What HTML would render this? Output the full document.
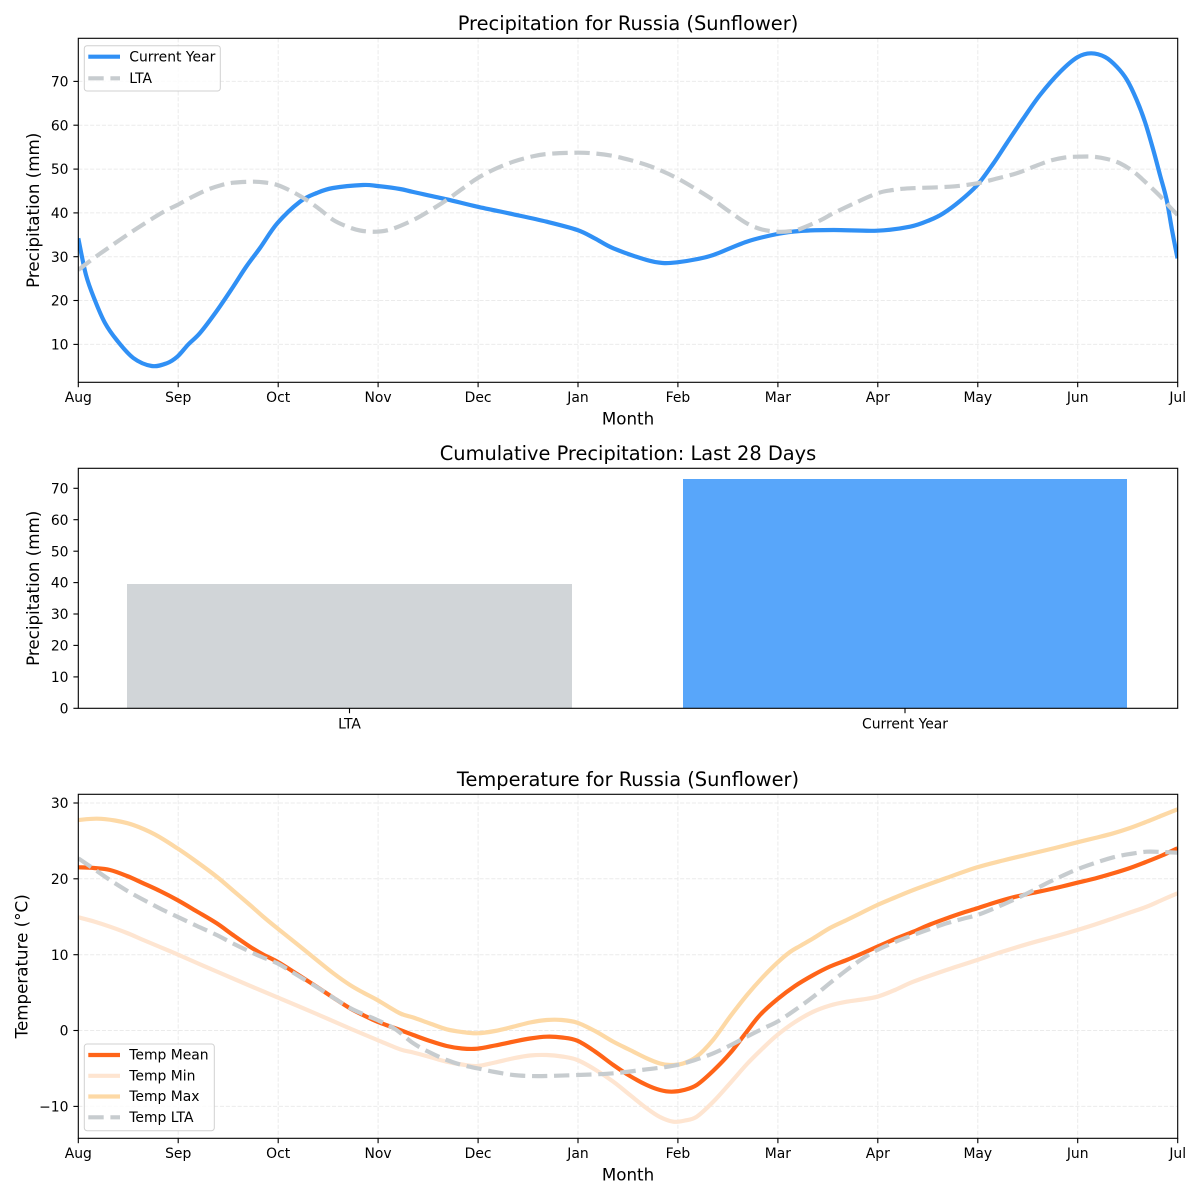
<!DOCTYPE html>
<html><head><meta charset="utf-8"><style>
html,body{margin:0;padding:0;background:#fff;}
svg{display:block;}
text{font-family:"DejaVu Sans","Liberation Sans",sans-serif;fill:#000;}
.tk{font-size:13.9px;}
.lab{font-size:16.7px;}
.ttl{font-size:19.4px;}
.grid line{stroke:#ebebeb;stroke-width:1;stroke-dasharray:4.1 1.8;}
.tick line{stroke:#000;stroke-width:1.1;}
</style></head><body>
<svg width="1200" height="1200" viewBox="0 0 1200 1200" xmlns="http://www.w3.org/2000/svg">
<defs>
<clipPath id="c1"><rect x="78.3" y="38.3" width="1099.4" height="344"/></clipPath>
<clipPath id="c3"><rect x="78.3" y="794.3" width="1099.4" height="344"/></clipPath>
</defs>
<rect width="1200" height="1200" fill="#fff"/>

<!-- ========== CHART 1 ========== -->
<text class="ttl" x="628" y="30" text-anchor="middle">Precipitation for Russia (Sunflower)</text>
<g class="grid">
<line x1="178.2" y1="38.3" x2="178.2" y2="382.3"/><line x1="278.2" y1="38.3" x2="278.2" y2="382.3"/>
<line x1="378.1" y1="38.3" x2="378.1" y2="382.3"/><line x1="478.1" y1="38.3" x2="478.1" y2="382.3"/>
<line x1="578" y1="38.3" x2="578" y2="382.3"/><line x1="677.9" y1="38.3" x2="677.9" y2="382.3"/>
<line x1="777.9" y1="38.3" x2="777.9" y2="382.3"/><line x1="877.8" y1="38.3" x2="877.8" y2="382.3"/>
<line x1="977.8" y1="38.3" x2="977.8" y2="382.3"/><line x1="1077.7" y1="38.3" x2="1077.7" y2="382.3"/>
<line x1="78.3" y1="344.4" x2="1177.7" y2="344.4"/><line x1="78.3" y1="300.5" x2="1177.7" y2="300.5"/>
<line x1="78.3" y1="256.7" x2="1177.7" y2="256.7"/><line x1="78.3" y1="212.9" x2="1177.7" y2="212.9"/>
<line x1="78.3" y1="169.1" x2="1177.7" y2="169.1"/><line x1="78.3" y1="125.2" x2="1177.7" y2="125.2"/>
<line x1="78.3" y1="81.4" x2="1177.7" y2="81.4"/>
</g>
<g clip-path="url(#c1)" fill="none" stroke-linejoin="round">
<polyline class="sm" stroke="#3090f5" stroke-width="4.2" points="78.3,238.3 86,275 95,300.5 105,323 116.7,340 133.3,358 151.7,366 166.7,363.3 177.3,356.7 188.3,344.4 200,333 216.7,311 233,287 246,267 260,248 277.3,223.3 300,201.7 316.7,193 333,188 363,185 377.3,186 400,189 413.3,192 446.7,199.3 477.3,206.7 513.3,214.3 546.7,221.7 577.3,230 595,238.5 613.3,248.3 646.7,260 663,263 677.3,262.3 695,259.5 713.3,255 746.7,241.7 777.3,234 800,231 833.3,230 877.3,230.7 910,226.7 930,220 943.3,213.3 960,201 977.3,185 993,164 1006.7,143.3 1023,119 1040,95 1060,72 1077.3,57.3 1091,53.3 1105,57 1116.7,66.7 1127,80 1136.7,100 1145,122 1153.3,150 1160,175 1166.7,200 1172,230 1177.5,258.3"/>
<polyline class="sm" stroke="#c7cccf" stroke-width="4.2" stroke-dasharray="15.4 6.7" points="78.3,270 94,258 110,246.7 130,233 150,220 165,211 177.3,205 192,197 206.7,190 220,185.5 233.3,182.7 253.3,181.7 265,182.5 277.3,185 292,191.5 306.7,200 320,209.5 333.3,220 347,226.5 360,230.5 376.7,231.7 392,229 413.3,220 430,210.5 446.7,200 462,189 477.3,178.3 495,169 513.3,161.7 530,157 546.7,154 577.3,152.7 595,153.5 613.3,156 630,160 646.7,165 662,171 677.3,178.3 695,188.5 713.3,200 730,212 746.7,223.3 762,229.5 777.3,231.7 790,231.2 800,229 820,220.5 833.3,213.3 855,203 877.3,193.3 893,190 910,188.3 950,186.7 977.3,183.3 997,178.5 1016.7,173.3 1033,167 1050,160.7 1065,157.5 1077.3,156.7 1093.3,156.7 1107,159 1120,163.3 1134,172 1146.7,183.3 1160,196 1168,205 1177.5,215"/>
</g>
<rect x="78.3" y="38.3" width="1099.4" height="344" fill="none" stroke="#000" stroke-width="1.1"/>
<g class="tick">
<line x1="78.3" y1="382.3" x2="78.3" y2="387.2"/><line x1="178.2" y1="382.3" x2="178.2" y2="387.2"/>
<line x1="278.2" y1="382.3" x2="278.2" y2="387.2"/><line x1="378.1" y1="382.3" x2="378.1" y2="387.2"/>
<line x1="478.1" y1="382.3" x2="478.1" y2="387.2"/><line x1="578" y1="382.3" x2="578" y2="387.2"/>
<line x1="677.9" y1="382.3" x2="677.9" y2="387.2"/><line x1="777.9" y1="382.3" x2="777.9" y2="387.2"/>
<line x1="877.8" y1="382.3" x2="877.8" y2="387.2"/><line x1="977.8" y1="382.3" x2="977.8" y2="387.2"/>
<line x1="1077.7" y1="382.3" x2="1077.7" y2="387.2"/><line x1="1177.7" y1="382.3" x2="1177.7" y2="387.2"/>
<line x1="73.4" y1="344.4" x2="78.3" y2="344.4"/><line x1="73.4" y1="300.5" x2="78.3" y2="300.5"/>
<line x1="73.4" y1="256.7" x2="78.3" y2="256.7"/><line x1="73.4" y1="212.9" x2="78.3" y2="212.9"/>
<line x1="73.4" y1="169.1" x2="78.3" y2="169.1"/><line x1="73.4" y1="125.2" x2="78.3" y2="125.2"/>
<line x1="73.4" y1="81.4" x2="78.3" y2="81.4"/>
</g>
<g class="tk" text-anchor="end">
<text x="68.5" y="349.5">10</text><text x="68.5" y="305.6">20</text><text x="68.5" y="261.8">30</text>
<text x="68.5" y="218">40</text><text x="68.5" y="174.2">50</text><text x="68.5" y="130.3">60</text>
<text x="68.5" y="86.5">70</text>
</g>
<g class="tk" text-anchor="middle">
<text x="78.3" y="402">Aug</text><text x="178.2" y="402">Sep</text><text x="278.2" y="402">Oct</text>
<text x="378.1" y="402">Nov</text><text x="478.1" y="402">Dec</text><text x="578" y="402">Jan</text>
<text x="677.9" y="402">Feb</text><text x="777.9" y="402">Mar</text><text x="877.8" y="402">Apr</text>
<text x="977.8" y="402">May</text><text x="1077.7" y="402">Jun</text><text x="1177.7" y="402">Jul</text>
</g>
<text class="lab" x="628" y="424.7" text-anchor="middle">Month</text>
<text class="lab" transform="translate(38.8,210.3) rotate(-90)" text-anchor="middle">Precipitation (mm)</text>
<!-- legend 1 -->
<rect x="84.3" y="45.7" width="136" height="45.3" rx="2.8" fill="#fff" fill-opacity="0.8" stroke="#d0d0d0" stroke-width="1"/>
<line x1="88.3" y1="56.7" x2="120" y2="56.7" stroke="#3090f5" stroke-width="4.2"/>
<line x1="88.3" y1="78.3" x2="120" y2="78.3" stroke="#c7cccf" stroke-width="4.2" stroke-dasharray="15.4 6.7"/>
<text class="tk" x="129.3" y="61.3">Current Year</text>
<text class="tk" x="129.3" y="82.9">LTA</text>

<!-- ========== CHART 2 ========== -->
<text class="ttl" x="628" y="460" text-anchor="middle">Cumulative Precipitation: Last 28 Days</text>
<rect x="127" y="584" width="445" height="124.3" fill="#d1d5d8"/>
<rect x="683" y="479" width="444" height="229.3" fill="#58a6fa"/>
<rect x="78.3" y="468.3" width="1099.4" height="240" fill="none" stroke="#000" stroke-width="1.1"/>
<g class="tick">
<line x1="349.5" y1="708.3" x2="349.5" y2="713.2"/><line x1="905" y1="708.3" x2="905" y2="713.2"/>
<line x1="73.4" y1="708.3" x2="78.3" y2="708.3"/><line x1="73.4" y1="676.9" x2="78.3" y2="676.9"/>
<line x1="73.4" y1="645.4" x2="78.3" y2="645.4"/><line x1="73.4" y1="614" x2="78.3" y2="614"/>
<line x1="73.4" y1="582.6" x2="78.3" y2="582.6"/><line x1="73.4" y1="551.2" x2="78.3" y2="551.2"/>
<line x1="73.4" y1="519.7" x2="78.3" y2="519.7"/><line x1="73.4" y1="488.3" x2="78.3" y2="488.3"/>
</g>
<g class="tk" text-anchor="end">
<text x="68.5" y="713.4">0</text><text x="68.5" y="682">10</text><text x="68.5" y="650.5">20</text>
<text x="68.5" y="619.1">30</text><text x="68.5" y="587.7">40</text><text x="68.5" y="556.3">50</text>
<text x="68.5" y="524.8">60</text><text x="68.5" y="493.4">70</text>
</g>
<g class="tk" text-anchor="middle">
<text x="349.5" y="728.5">LTA</text><text x="905" y="728.5">Current Year</text>
</g>
<text class="lab" transform="translate(38.8,588.3) rotate(-90)" text-anchor="middle">Precipitation (mm)</text>

<!-- ========== CHART 3 ========== -->
<text class="ttl" x="628" y="786" text-anchor="middle">Temperature for Russia (Sunflower)</text>
<g class="grid">
<line x1="178.2" y1="794.3" x2="178.2" y2="1138.3"/><line x1="278.2" y1="794.3" x2="278.2" y2="1138.3"/>
<line x1="378.1" y1="794.3" x2="378.1" y2="1138.3"/><line x1="478.1" y1="794.3" x2="478.1" y2="1138.3"/>
<line x1="578" y1="794.3" x2="578" y2="1138.3"/><line x1="677.9" y1="794.3" x2="677.9" y2="1138.3"/>
<line x1="777.9" y1="794.3" x2="777.9" y2="1138.3"/><line x1="877.8" y1="794.3" x2="877.8" y2="1138.3"/>
<line x1="977.8" y1="794.3" x2="977.8" y2="1138.3"/><line x1="1077.7" y1="794.3" x2="1077.7" y2="1138.3"/>
<line x1="78.3" y1="803" x2="1177.7" y2="803"/><line x1="78.3" y1="878.8" x2="1177.7" y2="878.8"/>
<line x1="78.3" y1="954.7" x2="1177.7" y2="954.7"/><line x1="78.3" y1="1030.5" x2="1177.7" y2="1030.5"/>
<line x1="78.3" y1="1106.4" x2="1177.7" y2="1106.4"/>
</g>
<g clip-path="url(#c3)" fill="none" stroke-linejoin="round" stroke-width="4.2">
<polyline class="sm" stroke="#ff6418" points="78.3,867.3 94,868 110,870 127,876 143.3,883.3 160,891 177.3,900 197,911.5 216.7,923.3 233,935 250,946.7 263,954.5 277.3,961.7 297,974 316.7,986.7 333,997.5 350,1008.3 364,1015.5 377.3,1021.7 400,1030 413.3,1035 430,1041 446.7,1046 462,1048.5 477.3,1048.7 495,1045.5 513.3,1041.7 530,1038.5 546.7,1036.7 562,1037.5 577.3,1040.7 595,1051.5 613.3,1065 630,1076 646.7,1085 660,1090 671.7,1091.7 684,1090 696.7,1085 713,1071 730,1053.3 745,1034 760,1015 777.3,999.3 795,986 813.3,975 830,966.5 846.7,960 862,953.5 877.3,946.7 895,939 913.3,931.7 930,924.5 946.7,918.3 962,913 977.3,908.3 995,902.5 1013.3,897.3 1030,893.5 1046.7,890 1062,886.5 1077.3,882.7 1095,878.5 1113.3,873.3 1130,868 1146.7,861.7 1162,855.5 1177.5,848.3"/>
<polyline class="sm" stroke="#fee5d1" points="78.3,917.3 94,921.5 110,926.7 127,933 143.3,940 160,947 177.3,954.3 197,963 216.7,971.5 250,985.8 277.3,997.3 316.7,1014 350,1028.5 377.3,1040 400,1049.3 413.3,1052.5 430,1057 446.7,1061.7 462,1064.5 477.3,1066 495,1062.5 513.3,1058.3 530,1055.5 546.7,1055 562,1056.5 577.3,1060 595,1069.5 613.3,1081.7 630,1095 646.7,1108.3 660,1117 673.3,1121.7 685,1120.5 696.7,1116.7 713,1102 730,1083.3 747,1064 762,1049 777.3,1035 795,1022 813.3,1011.7 830,1005.5 846.7,1001.7 862,999.5 877.3,996.7 895,990 913.3,981.7 945,970.5 977.3,960 1003,951.5 1030,943.3 1055,936.5 1077.3,930 1095,924.5 1113.3,918.3 1130,912.5 1146.7,906.7 1162,900 1177.5,893.3"/>
<polyline class="sm" stroke="#fdd9a6" points="78.3,820 96.7,818.7 115,820.5 133.3,825 155,834.5 177.3,848.3 197,862 216.7,876.7 233,890.5 250,905 263,916.5 277.3,928.3 297,944 316.7,960 333,973 350,985 364,993 377.3,1000 400,1013.3 413.3,1017.5 430,1023.5 446.7,1029.3 462,1032 477.3,1033.3 495,1031 513.3,1026.7 530,1022.5 546.7,1020 562,1020 577.3,1022.7 595,1031 613.3,1041.7 630,1050 646.7,1058.3 660,1063.5 670,1065 683,1063.5 696.7,1056.7 713,1040 730,1016.7 747,995 762,978 777.3,962.7 790,952 800,946 813.3,938.3 830,928 846.7,920 860,913.5 877.3,905 895,897.5 913.3,890 945,878.5 977.3,867.3 1003,860.5 1030,854 1055,848 1077.3,842.3 1095,838 1113.3,833.3 1130,828 1146.7,821.7 1162,815.5 1177.5,809.3"/>
<polyline class="sm" stroke="#c7cccf" stroke-dasharray="15.4 6.7" points="78.3,858.3 94,869 110,880 130,892.5 150,903.3 163,910 177.3,916.7 197,926 216.7,935 233,943.5 250,951.7 263,957.5 277.3,963.3 297,975 316.7,987 333,997.5 350,1008 364,1014.5 377.3,1020 395,1029 413.3,1043.3 430,1052.5 446.7,1060 462,1065 477.3,1068.3 495,1072 513.3,1075 530,1076 546.7,1076 577.3,1075 613.3,1073.3 646.7,1069.3 662,1067.5 677.3,1065 695,1060 713.3,1053.3 730,1045.5 746.7,1036.7 762,1029 777.3,1021.7 795,1010 813.3,996.7 830,983 846.7,970 862,959 877.3,950 895,942 913.3,935 930,929 946.7,923.3 962,919 977.3,915 995,908 1013.3,900 1030,892 1046.7,883.3 1062,876 1077.3,869.3 1095,863 1113.3,857.3 1130,854 1146.7,851.7 1162,852 1177.5,852.7"/>
</g>
<rect x="78.3" y="794.3" width="1099.4" height="344" fill="none" stroke="#000" stroke-width="1.1"/>
<g class="tick">
<line x1="78.3" y1="1138.3" x2="78.3" y2="1143.2"/><line x1="178.2" y1="1138.3" x2="178.2" y2="1143.2"/>
<line x1="278.2" y1="1138.3" x2="278.2" y2="1143.2"/><line x1="378.1" y1="1138.3" x2="378.1" y2="1143.2"/>
<line x1="478.1" y1="1138.3" x2="478.1" y2="1143.2"/><line x1="578" y1="1138.3" x2="578" y2="1143.2"/>
<line x1="677.9" y1="1138.3" x2="677.9" y2="1143.2"/><line x1="777.9" y1="1138.3" x2="777.9" y2="1143.2"/>
<line x1="877.8" y1="1138.3" x2="877.8" y2="1143.2"/><line x1="977.8" y1="1138.3" x2="977.8" y2="1143.2"/>
<line x1="1077.7" y1="1138.3" x2="1077.7" y2="1143.2"/><line x1="1177.7" y1="1138.3" x2="1177.7" y2="1143.2"/>
<line x1="73.4" y1="803" x2="78.3" y2="803"/><line x1="73.4" y1="878.8" x2="78.3" y2="878.8"/>
<line x1="73.4" y1="954.7" x2="78.3" y2="954.7"/><line x1="73.4" y1="1030.5" x2="78.3" y2="1030.5"/>
<line x1="73.4" y1="1106.4" x2="78.3" y2="1106.4"/>
</g>
<g class="tk" text-anchor="end">
<text x="68.5" y="808.1">30</text><text x="68.5" y="883.9">20</text><text x="68.5" y="959.8">10</text>
<text x="68.5" y="1035.6">0</text><text x="68.5" y="1111.5">−10</text>
</g>
<g class="tk" text-anchor="middle">
<text x="78.3" y="1158">Aug</text><text x="178.2" y="1158">Sep</text><text x="278.2" y="1158">Oct</text>
<text x="378.1" y="1158">Nov</text><text x="478.1" y="1158">Dec</text><text x="578" y="1158">Jan</text>
<text x="677.9" y="1158">Feb</text><text x="777.9" y="1158">Mar</text><text x="877.8" y="1158">Apr</text>
<text x="977.8" y="1158">May</text><text x="1077.7" y="1158">Jun</text><text x="1177.7" y="1158">Jul</text>
</g>
<text class="lab" x="628" y="1180.7" text-anchor="middle">Month</text>
<text class="lab" transform="translate(27.5,966.3) rotate(-90)" text-anchor="middle">Temperature (°C)</text>
<!-- legend 3 -->
<rect x="84.3" y="1044" width="130" height="86.7" rx="2.8" fill="#fff" fill-opacity="0.8" stroke="#d0d0d0" stroke-width="1"/>
<line x1="88.3" y1="1055" x2="120" y2="1055" stroke="#ff6418" stroke-width="4.2"/>
<line x1="88.3" y1="1075.8" x2="120" y2="1075.8" stroke="#fee5d1" stroke-width="4.2"/>
<line x1="88.3" y1="1096.5" x2="120" y2="1096.5" stroke="#fdd9a6" stroke-width="4.2"/>
<line x1="88.3" y1="1117.3" x2="120" y2="1117.3" stroke="#c7cccf" stroke-width="4.2" stroke-dasharray="15.4 6.7"/>
<text class="tk" x="129.3" y="1059.5">Temp Mean</text>
<text class="tk" x="129.3" y="1080.3">Temp Min</text>
<text class="tk" x="129.3" y="1101">Temp Max</text>
<text class="tk" x="129.3" y="1121.8">Temp LTA</text>
</svg>
<script>
(function(){
  var pls = document.querySelectorAll('polyline.sm');
  for (var k = 0; k < pls.length; k++) {
    var pl = pls[k];
    var a = pl.getAttribute('points').trim().split(/\s+/).map(function(s){var p=s.split(',');return [+p[0],+p[1]];});
    var d = 'M' + a[0][0] + ',' + a[0][1];
    for (var i = 0; i < a.length - 1; i++) {
      var p0 = a[i > 0 ? i - 1 : 0], p1 = a[i], p2 = a[i + 1], p3 = a[i + 2 < a.length ? i + 2 : i + 1];
      var c1x = p1[0] + (p2[0] - p0[0]) / 6, c1y = p1[1] + (p2[1] - p0[1]) / 6;
      var c2x = p2[0] - (p3[0] - p1[0]) / 6, c2y = p2[1] - (p3[1] - p1[1]) / 6;
      d += ' C' + c1x.toFixed(2) + ',' + c1y.toFixed(2) + ' ' + c2x.toFixed(2) + ',' + c2y.toFixed(2) + ' ' + p2[0] + ',' + p2[1];
    }
    var path = document.createElementNS('http://www.w3.org/2000/svg', 'path');
    for (var j = 0; j < pl.attributes.length; j++) {
      var at = pl.attributes[j];
      if (at.name !== 'points' && at.name !== 'class') path.setAttribute(at.name, at.value);
    }
    path.setAttribute('d', d);
    pl.parentNode.replaceChild(path, pl);
  }
})();
</script>
</body></html>
